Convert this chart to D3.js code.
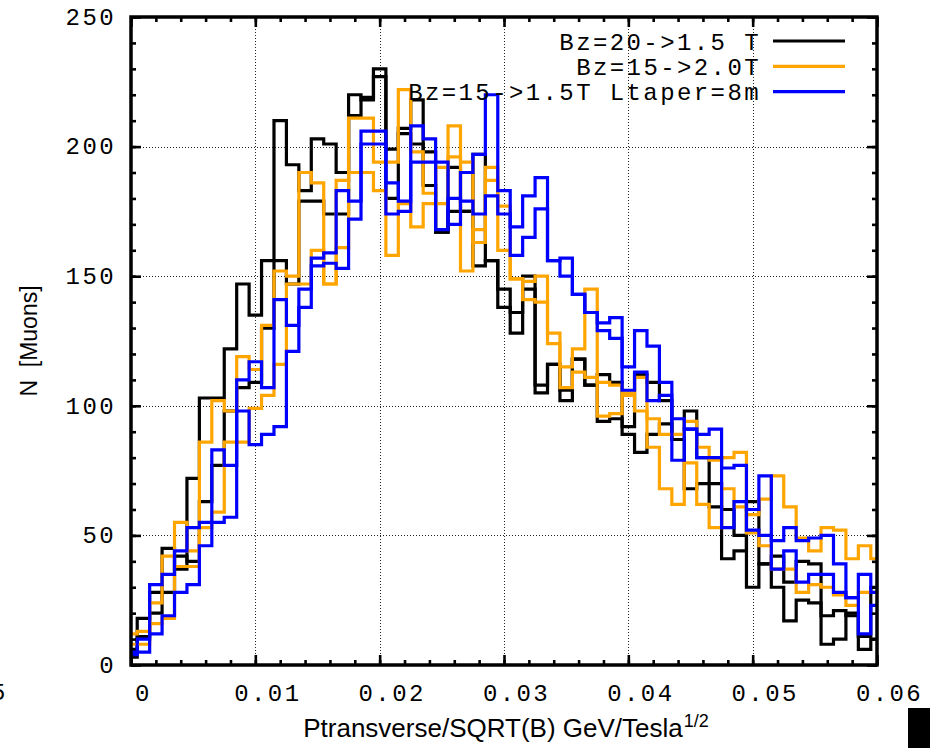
<!DOCTYPE html>
<html>
<head>
<meta charset="utf-8">
<script src="https://cdn.jsdelivr.net/npm/d3@7/dist/d3.min.js"></script>
<style>
  body { margin: 0; background: #fff; }
  svg { display: block; }
  .mono { font-family: "Liberation Mono", "DejaVu Sans Mono", monospace; font-size: 24px; letter-spacing: 2.4px; fill: #000; }
  .sans { font-family: "Liberation Sans", Arial, sans-serif; fill: #000; }
</style>
</head>
<body>
<svg id="chart" width="930" height="748"></svg>
<script>
// Bin centres of the histograms (GeV/Tesla^1/2), one bin every 0.001
const binCenters = d3.range(0, 61).map(i => +(i * 0.001).toFixed(3));

// Muon counts per bin, two histograms per field configuration
const bz20to15A = [3, 18, 28, 45, 37, 72, 103, 103, 122, 147, 135, 156, 210, 193, 183, 203, 201, 190, 220, 218,
  230, 199, 207, 218, 198, 167, 192, 175, 197, 156, 145, 136, 145, 108, 116, 106, 118, 108, 112, 109,
  92, 112, 109, 102, 87, 98, 80, 61, 41, 44, 63, 39, 42, 32, 40, 39, 19, 21, 19, 11, 30];
const bz20to15B = [6, 11, 20, 28, 42, 40, 63, 77, 98, 107, 109, 130, 156, 147, 179, 179, 174, 174, 212, 219,
  227, 180, 205, 201, 185, 167, 175, 175, 154, 156, 138, 128, 150, 105, 116, 102, 118, 108, 94, 95,
  89, 82, 89, 93, 87, 68, 70, 70, 60, 50, 30, 39, 30, 17, 25, 24, 8, 10, 20, 6, 10];

const bz15to20A = [12, 13, 24, 42, 55, 44, 86, 102, 98, 119, 114, 131, 152, 150, 190, 186, 147, 187, 211, 211,
  194, 194, 222, 198, 182, 192, 208, 194, 163, 192, 177, 149, 148, 150, 128, 115, 122, 145, 109, 108,
  105, 111, 95, 89, 89, 94, 84, 79, 80, 82, 58, 64, 73, 61, 49, 44, 53, 52, 41, 46, 41];
const bz15to20B = [8, 8, 16, 18, 38, 38, 53, 59, 86, 86, 99, 104, 116, 147, 147, 160, 147, 161, 190, 190,
  183, 158, 178, 169, 178, 178, 196, 152, 168, 187, 160, 149, 141, 140, 124, 107, 113, 111, 96, 97,
  104, 98, 84, 68, 62, 78, 62, 53, 68, 61, 51, 46, 37, 37, 28, 31, 30, 27, 23, 28, 28];

const bz15to15A = [5, 10, 31, 35, 44, 53, 55, 83, 77, 110, 117, 107, 141, 131, 145, 157, 159, 183, 179, 206,
  206, 186, 179, 208, 203, 194, 170, 190, 197, 220, 183, 169, 181, 188, 156, 157, 143, 136, 132, 134,
  115, 129, 123, 109, 95, 91, 89, 91, 76, 77, 60, 73, 48, 53, 48, 49, 50, 39, 26, 35, 28];
const bz15to15B = [4, 5, 12, 19, 28, 31, 46, 55, 57, 98, 85, 89, 92, 121, 138, 154, 155, 153, 172, 201,
  201, 174, 175, 194, 194, 168, 180, 179, 174, 181, 174, 158, 165, 176, 156, 150, 143, 136, 129, 126,
  106, 113, 102, 104, 79, 91, 80, 80, 53, 63, 52, 50, 37, 44, 32, 35, 35, 28, 26, 12, 23];

// Axis ticks
const xTicks = [0, 0.01, 0.02, 0.03, 0.04, 0.05, 0.06];
const yTicks = [0, 50, 100, 150, 200, 250];
const xMinor = d3.range(0, 0.0601, 0.002);
const yMinor = d3.range(0, 251, 10);

const legendLabels = ["Bz=20->1.5 T", "Bz=15->2.0T", "Bz=15->1.5T Ltaper=8m"];
const colors = ["#000000", "#ffa500", "#0000ff"];

const series = [
  { values: bz20to15A, group: 0 }, { values: bz20to15B, group: 0 },
  { values: bz15to20A, group: 1 }, { values: bz15to20B, group: 1 },
  { values: bz15to15A, group: 2 }, { values: bz15to15B, group: 2 }
];

(function draw() {
  const svg = d3.select("#chart");
  const pL = 131, pR = 877, pT = 17, pB = 665;
  const x = d3.scaleLinear().domain([0, 0.06]).range([pL, pR]);
  const y = d3.scaleLinear().domain([0, 250]).range([pB, pT]);

  // Dotted grid at the major ticks
  const grid = svg.append("g").attr("stroke", "#222").attr("stroke-width", 1).attr("stroke-dasharray", "1,2");
  grid.selectAll("line.gx").data(xTicks.slice(1, -1)).join("line").attr("class", "gx")
    .attr("x1", d => Math.round(x(d)) + 0.5).attr("x2", d => Math.round(x(d)) + 0.5)
    .attr("y1", pT).attr("y2", pB);
  grid.selectAll("line.gy").data(yTicks.slice(1, -1)).join("line").attr("class", "gy")
    .attr("y1", d => Math.round(y(d)) + 0.5).attr("y2", d => Math.round(y(d)) + 0.5)
    .attr("x1", pL).attr("x2", pR);

  // Histogram step curves
  svg.append("defs").append("clipPath").attr("id", "plotClip")
    .append("rect").attr("x", pL).attr("y", pT).attr("width", pR - pL).attr("height", pB - pT);

  const stepLine = d3.line()
    .x((d, i) => x(binCenters[i]))
    .y(d => y(d))
    .curve(d3.curveStep);

  svg.append("g").attr("clip-path", "url(#plotClip)")
    .selectAll("path").data(series).join("path")
    .attr("d", d => stepLine(d.values))
    .attr("fill", "none")
    .attr("stroke", d => colors[d.group])
    .attr("stroke-width", 3.2)
    .attr("stroke-linejoin", "miter")
    .attr("stroke-linecap", "square");

  // Axes with inward ticks on all four sides
  function styleAxis(g) {
    g.attr("font-family", null).attr("font-size", null);
    g.select(".domain").remove();
    g.selectAll(".tick line").attr("stroke", "#000").attr("stroke-width", 2.6);
  }
  const minorAxis = (axis, vals) => axis.tickValues(vals).tickSize(-5).tickFormat("");

  svg.append("g").attr("transform", `translate(0,${pB})`)
    .call(minorAxis(d3.axisBottom(x), xMinor)).call(styleAxis);
  svg.append("g").attr("transform", `translate(0,${pT})`)
    .call(minorAxis(d3.axisTop(x), xMinor)).call(styleAxis);
  svg.append("g").attr("transform", `translate(${pL},0)`)
    .call(minorAxis(d3.axisLeft(y), yMinor)).call(styleAxis);
  svg.append("g").attr("transform", `translate(${pR},0)`)
    .call(minorAxis(d3.axisRight(y), yMinor)).call(styleAxis);

  svg.append("g").attr("transform", `translate(0,${pT})`)
    .call(d3.axisTop(x).tickValues(xTicks).tickSize(-10).tickFormat("")).call(styleAxis);
  svg.append("g").attr("transform", `translate(${pR},0)`)
    .call(d3.axisRight(y).tickValues(yTicks).tickSize(-10).tickFormat("")).call(styleAxis);

  const xAxis = svg.append("g").attr("transform", `translate(0,${pB})`)
    .call(d3.axisBottom(x).tickValues(xTicks).tickSize(-10).tickPadding(19)
      .tickFormat(d => d === 0 ? "0" : d.toFixed(2)))
    .call(styleAxis);
  xAxis.selectAll(".tick text").attr("class", "mono").attr("x", 12);

  const yAxis = svg.append("g").attr("transform", `translate(${pL},0)`)
    .call(d3.axisLeft(y).tickValues(yTicks).tickSize(-10).tickPadding(15))
    .call(styleAxis);
  yAxis.selectAll(".tick text").attr("class", "mono").attr("dy", "0.3em");

  // Frame
  svg.append("rect").attr("x", pL).attr("y", pT).attr("width", pR - pL).attr("height", pB - pT)
    .attr("fill", "none").attr("stroke", "#000").attr("stroke-width", 3.5);

  // Axis titles
  svg.append("text").attr("class", "sans")
    .attr("transform", `translate(37,${(pT + pB) / 2}) rotate(-90)`)
    .attr("text-anchor", "middle").attr("font-size", 23)
    .attr("xml:space", "preserve")
    .text("N  [Muons]");

  const xt = svg.append("text").attr("class", "sans")
    .attr("x", (pL + pR) / 2 + 2).attr("y", 737)
    .attr("text-anchor", "middle").attr("font-size", 26);
  xt.append("tspan").text("Ptransverse/SQRT(B) GeV/Tesla");
  xt.append("tspan").attr("font-size", 18).attr("dy", -10).attr("dx", 1).text("1/2");

  // Legend
  const legend = svg.append("g");
  legendLabels.forEach((label, i) => {
    const ly = 41 + i * 25.3;
    legend.append("line").attr("x1", 773).attr("x2", 845).attr("y1", ly).attr("y2", ly)
      .attr("stroke", colors[i]).attr("stroke-width", 3.2);
    legend.append("text").attr("class", "mono")
      .attr("x", 761).attr("y", ly + 8.5).attr("text-anchor", "end")
      .attr("xml:space", "preserve").text(label);
  });

  // Stray marks at the page edges
  svg.append("text").attr("class", "mono").attr("x", -9).attr("y", 700).text("5");
  svg.append("rect").attr("x", 908).attr("y", 708).attr("width", 22).attr("height", 40).attr("fill", "#000");
})();
</script>
</body>
</html>
